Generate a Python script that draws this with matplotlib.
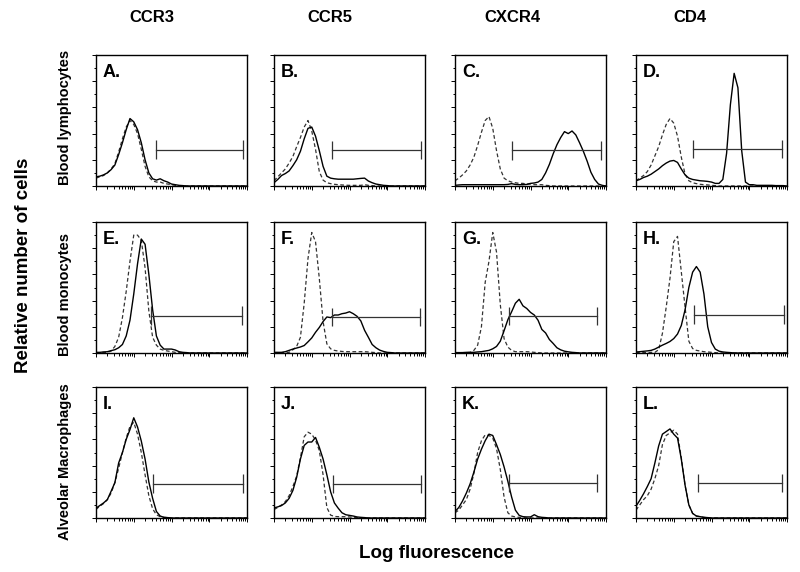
import numpy as np
import matplotlib
matplotlib.use('Agg')
import matplotlib.pyplot as plt
from matplotlib.ticker import MultipleLocator, LogLocator, NullFormatter

plt.rcParams['font.family'] = ['Liberation Sans', 'DejaVu Sans']

# log decades of the fluorescence channel (10^0 .. 10^4), one value every 0.1 decade
channels = np.linspace(0, 4, 41)

markers = ['CCR3', 'CCR5', 'CXCR4', 'CD4']
cell_types = ['Blood lymphocytes', 'Blood monocytes', 'Alveolar Macrophages']
letters = ['A.', 'B.', 'C.', 'D.', 'E.', 'F.', 'G.', 'H.', 'I.', 'J.', 'K.', 'L.']

# relative number of cells, % of the panel height (solid = antibody, dashed = isotype)
a_solid = [7, 7.5, 8.5, 10, 12.5, 16, 24, 33, 43, 51.5,
           49, 43, 33, 20, 10, 5.5, 4.5, 5.5, 4, 3,
           1.5, 1, 0.5, 0.3, 0, 0, 0, 0, 0, 0,
           0, 0, 0, 0, 0, 0, 0, 0, 0, 0, 0]
a_dashed = [6, 7, 8, 10, 13, 17, 26, 36, 45, 50,
            47, 40, 28, 15, 7, 4, 3, 3, 2, 1.5,
            1, 0.5, 0.3, 0, 0, 0, 0, 0, 0, 0,
            0, 0, 0, 0, 0, 0, 0, 0, 0, 0, 0]
b_solid = [2.5, 5, 8, 9.5, 11.5, 15.5, 20, 26.5, 36, 44,
           45, 38, 27, 15, 7.5, 6, 5.5, 5.2, 5.2, 5.2,
           5.2, 5.2, 5.5, 5.8, 6, 3.8, 2.5, 1.5, 1, 0.5,
           0.3, 0, 0, 0, 0, 0, 0, 0, 0, 0, 0]
b_dashed = [4, 7, 10, 13, 17.5, 22.5, 30, 37, 45, 50,
            42, 28, 11, 4.5, 2.5, 1.8, 1.3, 1, 0.8, 0.6,
            0.5, 0.5, 0.5, 0.5, 1, 0.5, 0.3, 0, 0, 0,
            0, 0, 0, 0, 0, 0, 0, 0, 0, 0, 0]
c_solid = [0.5, 0.8, 1, 1, 1, 1, 1, 1, 1, 1,
           1, 1, 1, 1, 1.2, 1.8, 1.2, 1, 1, 1.2,
           2, 2.3, 3, 5, 10, 16.5, 24.5, 31.5, 37, 41.5,
           40, 42, 39, 33, 26.5, 19, 10.5, 5, 1.5, 0.5, 0]
c_dashed = [4, 6, 8.5, 11.5, 16, 22, 31, 41, 50, 53,
            44, 27, 13, 6, 4, 3, 2.5, 2, 2, 1.5,
            1.5, 1, 1, 1, 0.5, 0.3, 0, 0, 0, 0,
            0, 0, 0, 0, 0, 0, 0, 0, 0, 0, 0]
d_solid = [4, 5, 6.5, 7.5, 9, 11, 13, 15.5, 17.5, 19,
           19.5, 18, 13, 8.5, 6, 5, 4.5, 4, 3.8, 3.5,
           3, 2, 2, 5, 25, 62, 86, 75, 27, 3,
           1, 1, 0.5, 0.5, 0.5, 0.5, 0.5, 0.3, 0.3, 0.3, 0]
d_dashed = [4, 6, 8, 11, 16, 23, 30, 39, 47, 51.5,
            48, 38, 22, 9, 4, 2.5, 1.8, 1.3, 1, 0.8,
            0.5, 0.3, 0, 0, 0, 0, 0, 0, 0, 0,
            0, 0, 0, 0, 0, 0, 0, 0, 0, 0, 0]
e_solid = [0.5, 0.5, 0.8, 1, 1.8, 2.5, 4, 6.5, 13, 25,
           45, 68, 87, 83, 60, 33, 13, 6, 3, 3,
           3, 2.3, 1, 0.5, 0.3, 0, 0, 0, 0, 0,
           0, 0, 0, 0, 0, 0, 0, 0, 0, 0, 0]
e_dashed = [0.3, 0.3, 0.5, 0.5, 1.5, 5, 12, 27, 47, 70,
            90, 90, 86, 65, 32, 12, 6, 3, 2, 1.5,
            1, 0.5, 0.3, 0, 0, 0, 0, 0, 0, 0,
            0, 0, 0, 0, 0, 0, 0, 0, 0, 0, 0]
f_solid = [0.5, 0.5, 0.5, 1, 2, 3, 3.8, 4.6, 5.7, 8.5,
           11.5, 15.8, 19.5, 24, 27.5, 27, 29, 29, 30, 30.5,
           31.5, 30, 28, 24.5, 17.3, 12, 6.5, 4, 2.2, 1.2,
           0.5, 0.3, 0, 0, 0, 0, 0, 0, 0, 0, 0]
f_dashed = [0.3, 0.3, 0.3, 0.5, 0.5, 2.5, 5, 12, 38, 72,
            92, 85, 57, 24, 7, 3.2, 2, 1.5, 1.2, 1,
            1, 1, 1, 1, 1, 0.8, 0.5, 0.3, 0, 0,
            0, 0, 0, 0, 0, 0, 0, 0, 0, 0, 0]
g_solid = [0.3, 0.3, 0.3, 0.5, 0.5, 0.5, 0.8, 1, 1.5, 2,
           3.2, 5, 9, 17, 25.4, 31.5, 38, 41, 36, 34,
           31, 29, 25, 18, 15.3, 10.3, 7.3, 4, 2.4, 1.4,
           0.9, 0.5, 0.3, 0, 0, 0, 0, 0, 0, 0, 0]
g_dashed = [0.3, 0.3, 0.3, 0.3, 0.5, 2, 6, 20, 54, 70,
            92, 77, 37, 11, 4.5, 2, 1, 1, 1, 1,
            0.8, 0.5, 0.3, 0, 0, 0, 0, 0, 0, 0,
            0, 0, 0, 0, 0, 0, 0, 0, 0, 0, 0]
h_solid = [0.8, 1, 1.3, 1.6, 2, 3, 4.5, 6, 7.3, 8.8,
           11, 14.5, 21, 33, 50, 61.7, 66, 61.7, 45, 20,
           8, 3, 1.4, 0.8, 0.5, 0.3, 0, 0, 0, 0,
           0, 0, 0, 0, 0, 0, 0, 0, 0, 0, 0]
h_dashed = [0.3, 0.3, 0.3, 0.3, 0.5, 0.5, 2.5, 15, 35, 57,
            85, 89, 62, 35, 9, 3.4, 2, 1.5, 1, 0.8,
            0.5, 0.3, 0, 0, 0, 0, 0, 0, 0, 0,
            0, 0, 0, 0, 0, 0, 0, 0, 0, 0, 0]
i_solid = [7.5, 9.5, 11.5, 14, 20.4, 27, 42, 50, 60, 67.5,
           76.5, 69.5, 58.7, 45, 27.5, 15, 5, 1.5, 0.5, 0.3,
           0, 0, 0, 0, 0, 0, 0, 0, 0, 0,
           0, 0, 0, 0, 0, 0, 0, 0, 0, 0, 0]
i_dashed = [6.5, 9, 11, 14, 19, 27, 38, 50, 61, 70,
            73, 64, 50, 33, 17, 7, 2.5, 1, 0.5, 0.3,
            0, 0, 0, 0, 0, 0, 0, 0, 0, 0,
            0, 0, 0, 0, 0, 0, 0, 0, 0, 0, 0]
j_solid = [7.7, 8.5, 9.5, 11.5, 15, 21, 31, 45, 55.4, 58,
           58, 61.5, 54, 45, 33, 20, 11.5, 7.5, 4, 2.5,
           2, 1.5, 0.8, 0.5, 0.3, 0, 0, 0, 0, 0,
           0, 0, 0, 0, 0, 0, 0, 0, 0, 0, 0]
j_dashed = [6.5, 8, 10, 12.5, 17, 24, 32, 46, 62, 65.5,
            64, 59.5, 51.5, 33, 8, 2.2, 1.2, 1, 1, 1,
            0.8, 0.5, 0.3, 0, 0, 0, 0, 0, 0, 0,
            0, 0, 0, 0, 0, 0, 0, 0, 0, 0, 0]
k_solid = [5, 8, 13, 19, 26, 35, 45, 52.5, 59, 64,
           63, 56, 48.5, 39, 28, 16, 6, 2, 1, 0.8,
           0.8, 2.5, 1, 0.5, 0.3, 0, 0, 0, 0, 0,
           0, 0, 0, 0, 0, 0, 0, 0, 0, 0, 0]
k_dashed = [4, 6, 10, 14, 22, 34, 50, 59, 63.5, 63,
            61, 53, 37, 16, 4, 1.5, 0.8, 0.5, 0.3, 0,
            0, 0, 0, 0, 0, 0, 0, 0, 0, 0,
            0, 0, 0, 0, 0, 0, 0, 0, 0, 0, 0]
l_solid = [9, 13.5, 18.5, 24, 30, 42, 55, 64, 66, 68,
           64, 61, 45, 25, 10, 3.5, 1.5, 1, 0.5, 0.3,
           0, 0, 0, 0, 0, 0, 0, 0, 0, 0,
           0, 0, 0, 0, 0, 0, 0, 0, 0, 0, 0]
l_dashed = [6, 10, 14, 17, 22, 30, 40, 56, 63, 65,
            67, 64, 46, 25, 10, 3.5, 1.5, 1, 0.5, 0.3,
            0, 0, 0, 0, 0, 0, 0, 0, 0, 0,
            0, 0, 0, 0, 0, 0, 0, 0, 0, 0, 0]

# positive gate markers: start / end (log decades) and height (%)
gate_start = [1.59, 1.53, 1.51, 1.50, 1.47, 1.53, 1.44, 1.53, 1.51, 1.57, 1.42, 1.63]
gate_end = [3.89, 3.89, 3.86, 3.88, 3.87, 3.88, 3.77, 3.91, 3.89, 3.89, 3.75, 3.88]
gate_level = [27.8, 27.6, 27.2, 28.2, 28.5, 27.6, 28.0, 29.3, 26.3, 25.8, 26.5, 26.7]

solids = [a_solid, b_solid, c_solid, d_solid, e_solid, f_solid,
          g_solid, h_solid, i_solid, j_solid, k_solid, l_solid]
dashes = [a_dashed, b_dashed, c_dashed, d_dashed, e_dashed, f_dashed,
          g_dashed, h_dashed, i_dashed, j_dashed, k_dashed, l_dashed]

W, H = 800, 572
fig = plt.figure(figsize=(W / 100, H / 100), dpi=100)

col_left = [96, 274, 455, 636]
row_top = [55, 222, 387]
pw, ph = 151, 131

fluor = 10 ** channels
for k in range(12):
    r, c = divmod(k, 4)
    ax = fig.add_axes([col_left[c] / W, 1 - (row_top[r] + ph) / H, pw / W, ph / H])
    ax.plot(fluor, dashes[k], color='0.2', lw=0.9, linestyle=(0, (3, 2)))
    ax.plot(fluor, solids[k], color='black', lw=1.0)

    # gate bar with end caps
    g0, g1, gy = 10 ** gate_start[k], 10 ** gate_end[k], gate_level[k]
    ax.plot([g0, g1], [gy, gy], color='0.2', lw=0.9)
    ax.vlines([g0, g1], gy - 7, gy + 7, color='0.2', lw=0.9)

    ax.set_xscale('log')
    ax.set_xlim(1, 1e4)
    ax.set_ylim(0, 100)
    ax.yaxis.set_major_locator(MultipleLocator(20))
    ax.yaxis.set_minor_locator(MultipleLocator(10))
    ax.xaxis.set_major_locator(LogLocator(base=10, numticks=10))
    ax.xaxis.set_minor_locator(LogLocator(base=10, subs=np.arange(2, 10), numticks=10))
    ax.xaxis.set_minor_formatter(NullFormatter())
    ax.tick_params(which='both', direction='out', labelleft=False, labelbottom=False,
                   top=False, right=False, width=0.7)
    ax.tick_params(which='major', length=3)
    ax.tick_params(which='minor', length=1.8)
    for s in ax.spines.values():
        s.set_linewidth(1.0)

    ax.text(0.045, 0.93, letters[k], transform=ax.transAxes, ha='left', va='top',
            fontsize=13, fontweight='bold')

# column headers
for x, m in zip([152, 330, 512, 690], markers):
    fig.text(x / W, 1 - 18 / H, m, ha='center', va='center', fontsize=12, fontweight='bold')

# row labels
for y, lab in zip([117, 295, 462], cell_types):
    fig.text(65 / W, 1 - y / H, lab, rotation=90, ha='center', va='center',
             fontsize=10.5, fontweight='bold')

fig.text(24 / W, 1 - 265 / H, 'Relative number of cells', rotation=90,
         ha='center', va='center', fontsize=13.5, fontweight='bold')
fig.text(436 / W, 1 - 554 / H, 'Log fluorescence', ha='center', va='center',
         fontsize=13.5, fontweight='bold')

fig.savefig('out.png', dpi=100)
